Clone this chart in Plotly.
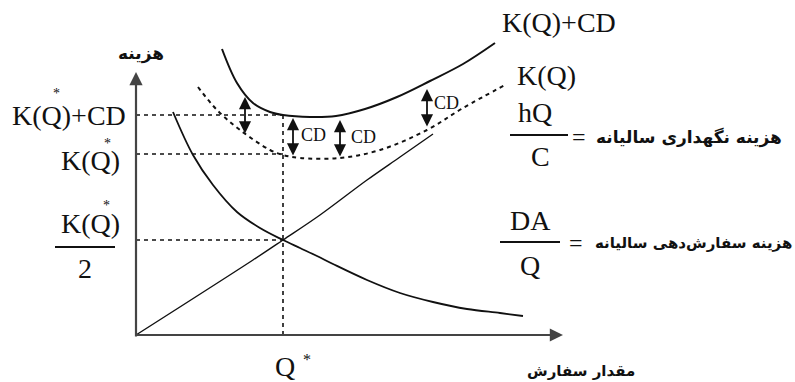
import plotly.graph_objects as go

# values (arbitrary cost / quantity units)
q_star = 147
k_star = 181
cd = 39
half_k = 95

holding_q = [0, 117, 147, 184, 231, 264, 297]
holding_cost = [0, 75, 95, 120, 155, 178, 201]

order_q = [37, 57, 77, 101, 124, 147, 164, 181, 197, 231, 264, 297, 331, 364, 387]
order_cost = [223, 180, 150, 123, 107, 95, 87, 79, 71, 55, 42, 33, 26, 22, 19]

total_cd_q = [86, 101, 117, 134, 147, 174, 200, 229, 261, 294, 327, 359]
total_cd_cost = [286, 252, 232, 223, 220, 218, 219, 226, 238, 254, 271, 292]

total_q = [62, 81, 104, 134, 147, 164, 204, 244, 291, 327, 371]
total_cost = [248, 225, 205, 185, 180, 177, 177, 185, 205, 227, 251]

# CD gap arrows: x position, top, bottom
cd_arrow_q = [109, 157, 204, 291]
cd_arrow_top = [238, 217, 215, 246]
cd_arrow_bot = [200, 178, 177, 207]

axis_q_max = 427
axis_cost_max = 263

W, H = 795, 382
X0, Y0 = 136, 335  # pixel position of origin


def px(x):
    return x / W


def py(y):
    return 1 - y / H


serif = "Liberation Serif"
fa = "DejaVu Sans"
ink = "#111111"

fig = go.Figure()

fig.add_trace(go.Scatter(x=holding_q, y=holding_cost, mode="lines",
                         line=dict(color=ink, width=1.4, shape="spline")))
fig.add_trace(go.Scatter(x=order_q, y=order_cost, mode="lines",
                         line=dict(color=ink, width=1.8, shape="spline")))
fig.add_trace(go.Scatter(x=total_cd_q, y=total_cd_cost, mode="lines",
                         line=dict(color=ink, width=2, shape="spline")))
fig.add_trace(go.Scatter(x=total_q, y=total_cost, mode="lines",
                         line=dict(color=ink, width=2, shape="spline", dash="4px,4px")))

# guide lines
for lvl in [k_star + cd, k_star, half_k]:
    fig.add_trace(go.Scatter(x=[0, q_star], y=[lvl, lvl], mode="lines",
                             line=dict(color=ink, width=1.6, dash="4px,4px")))
fig.add_trace(go.Scatter(x=[q_star, q_star], y=[0, k_star + cd], mode="lines",
                         line=dict(color=ink, width=1.6, dash="4px,4px")))

ann = []
# axes with arrow heads
ann.append(dict(x=0, y=axis_cost_max, ax=0, ay=-3, xref="x", yref="y", axref="x", ayref="y",
                showarrow=True, arrowhead=2, arrowsize=1.2, arrowwidth=2.2, arrowcolor="#444",
                standoff=0, text=""))
ann.append(dict(x=axis_q_max, y=0, ax=-1, ay=0, xref="x", yref="y", axref="x", ayref="y",
                showarrow=True, arrowhead=2, arrowsize=1.2, arrowwidth=2.2, arrowcolor="#444",
                standoff=0, text=""))

# CD double arrows
for q, t, b in zip(cd_arrow_q, cd_arrow_top, cd_arrow_bot):
    ann.append(dict(x=q, y=t, ax=q, ay=b, xref="x", yref="y", axref="x", ayref="y",
                    showarrow=True, arrowhead=2, arrowsize=1.35, arrowwidth=1.8,
                    startarrowhead=2, startarrowsize=1.35, arrowside="end+start",
                    arrowcolor=ink, standoff=0, startstandoff=0, text=""))


def label(text, x, y, size=28, xanchor="center", family=serif, bold=False):
    ann.append(dict(text=f"<b>{text}</b>" if bold else text,
                    x=px(x), y=py(y), xref="paper", yref="paper",
                    showarrow=False, xanchor=xanchor, yanchor="middle",
                    font=dict(family=family, size=size, color=ink)))


# CD labels
label("CD", 299, 135, 18, "left")
label("CD", 349, 137, 18, "left")
label("CD", 432, 103, 18, "left")

# left labels
label("K(Q)+CD", 128, 115, 28, "right")
label("*", 56, 93, 14)
label("K(Q)", 122, 160, 28, "right")
label("*", 107, 143, 14)
label("K(Q)", 122, 223, 28, "right")
label("*", 106, 205, 14)
label("2", 85, 268, 28)

# right labels
label("K(Q)+CD", 500, 22, 28, "left")
label("K(Q)", 515, 75, 28, "left")
label("hQ", 535, 113, 28)
label("C", 540, 156, 28)
label("=", 579, 137, 24)
label("هزینه نگهداری سالیانه", 689, 137, 17, "center", fa, True)
label("DA", 530, 220, 28)
label("Q", 530, 265, 28)
label("=", 576, 243, 24)
label("هزینه سفارش\u200cدهی سالیانه", 693, 243, 15, "center", fa, True)

# axis titles
label("مقدار سفارش", 581, 371, 15, "center", fa, True)
label("هزینه", 141, 53, 17, "center", fa, True)
label("Q", 285, 366, 28)
label("*", 307, 359, 16)

shapes = []
for x1, x2, y in [(55, 115, 247), (510, 568, 135), (500, 560, 242)]:
    shapes.append(dict(type="line", xref="paper", yref="paper",
                       x0=px(x1), x1=px(x2), y0=py(y), y1=py(y),
                       line=dict(color=ink, width=2)))

fig.update_layout(
    width=W, height=H,
    margin=dict(l=0, r=0, t=0, b=0),
    paper_bgcolor="white", plot_bgcolor="white",
    showlegend=False,
    xaxis=dict(visible=False, range=[-X0, W - X0]),
    yaxis=dict(visible=False, range=[Y0 - H, Y0]),
    annotations=ann,
    shapes=shapes,
)

# drop the default page margin so the figure sits at the window corner
fig.write_html("out.html", config={"displayModeBar": False},
               post_script="document.body.style.margin='0';")
